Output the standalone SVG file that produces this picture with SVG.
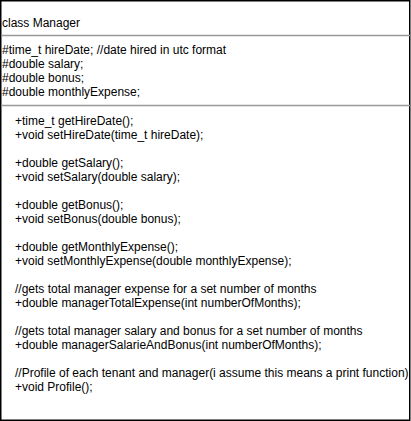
<svg xmlns="http://www.w3.org/2000/svg" width="411" height="421" viewBox="0 0 411 421">
<style>
text{font-family:"Liberation Sans",Arial,sans-serif;font-size:12px;fill:#000}
.sep{stroke:#999;stroke-width:1.5}
</style>
<rect x="0" y="0" width="411" height="421" fill="#fff"/>
<g id="Manager">
<rect x="0.75" y="0.75" width="409" height="419.5" fill="#fff" stroke="#000" stroke-width="1.5"/>
<text x="2" y="27">class Manager</text>
<line class="sep" x1="1" y1="35.5" x2="410" y2="35.5"/>
<text x="2" y="54">#time_t hireDate; //date hired in utc format</text>
<text x="2" y="68">#double salary;</text>
<text x="2" y="82">#double bonus;</text>
<text x="2" y="96">#double monthlyExpense;</text>
<line class="sep" x1="1" y1="105.5" x2="410" y2="105.5"/>
<text x="15" y="125">+time_t getHireDate();</text>
<text x="15" y="139">+void setHireDate(time_t hireDate);</text>
<text x="15" y="167">+double getSalary();</text>
<text x="15" y="181">+void setSalary(double salary);</text>
<text x="15" y="209">+double getBonus();</text>
<text x="15" y="223">+void setBonus(double bonus);</text>
<text x="15" y="251">+double getMonthlyExpense();</text>
<text x="15" y="265">+void setMonthlyExpense(double monthlyExpense);</text>
<text x="15" y="293">//gets total manager expense for a set number of months</text>
<text x="15" y="307">+double managerTotalExpense(int numberOfMonths);</text>
<text x="15" y="335">//gets total manager salary and bonus for a set number of months</text>
<text x="15" y="349">+double managerSalarieAndBonus(int numberOfMonths);</text>
<text x="15" y="377">//Profile of each tenant and manager(i assume this means a print function)</text>
<text x="15" y="391">+void Profile();</text>
</g>
</svg>
